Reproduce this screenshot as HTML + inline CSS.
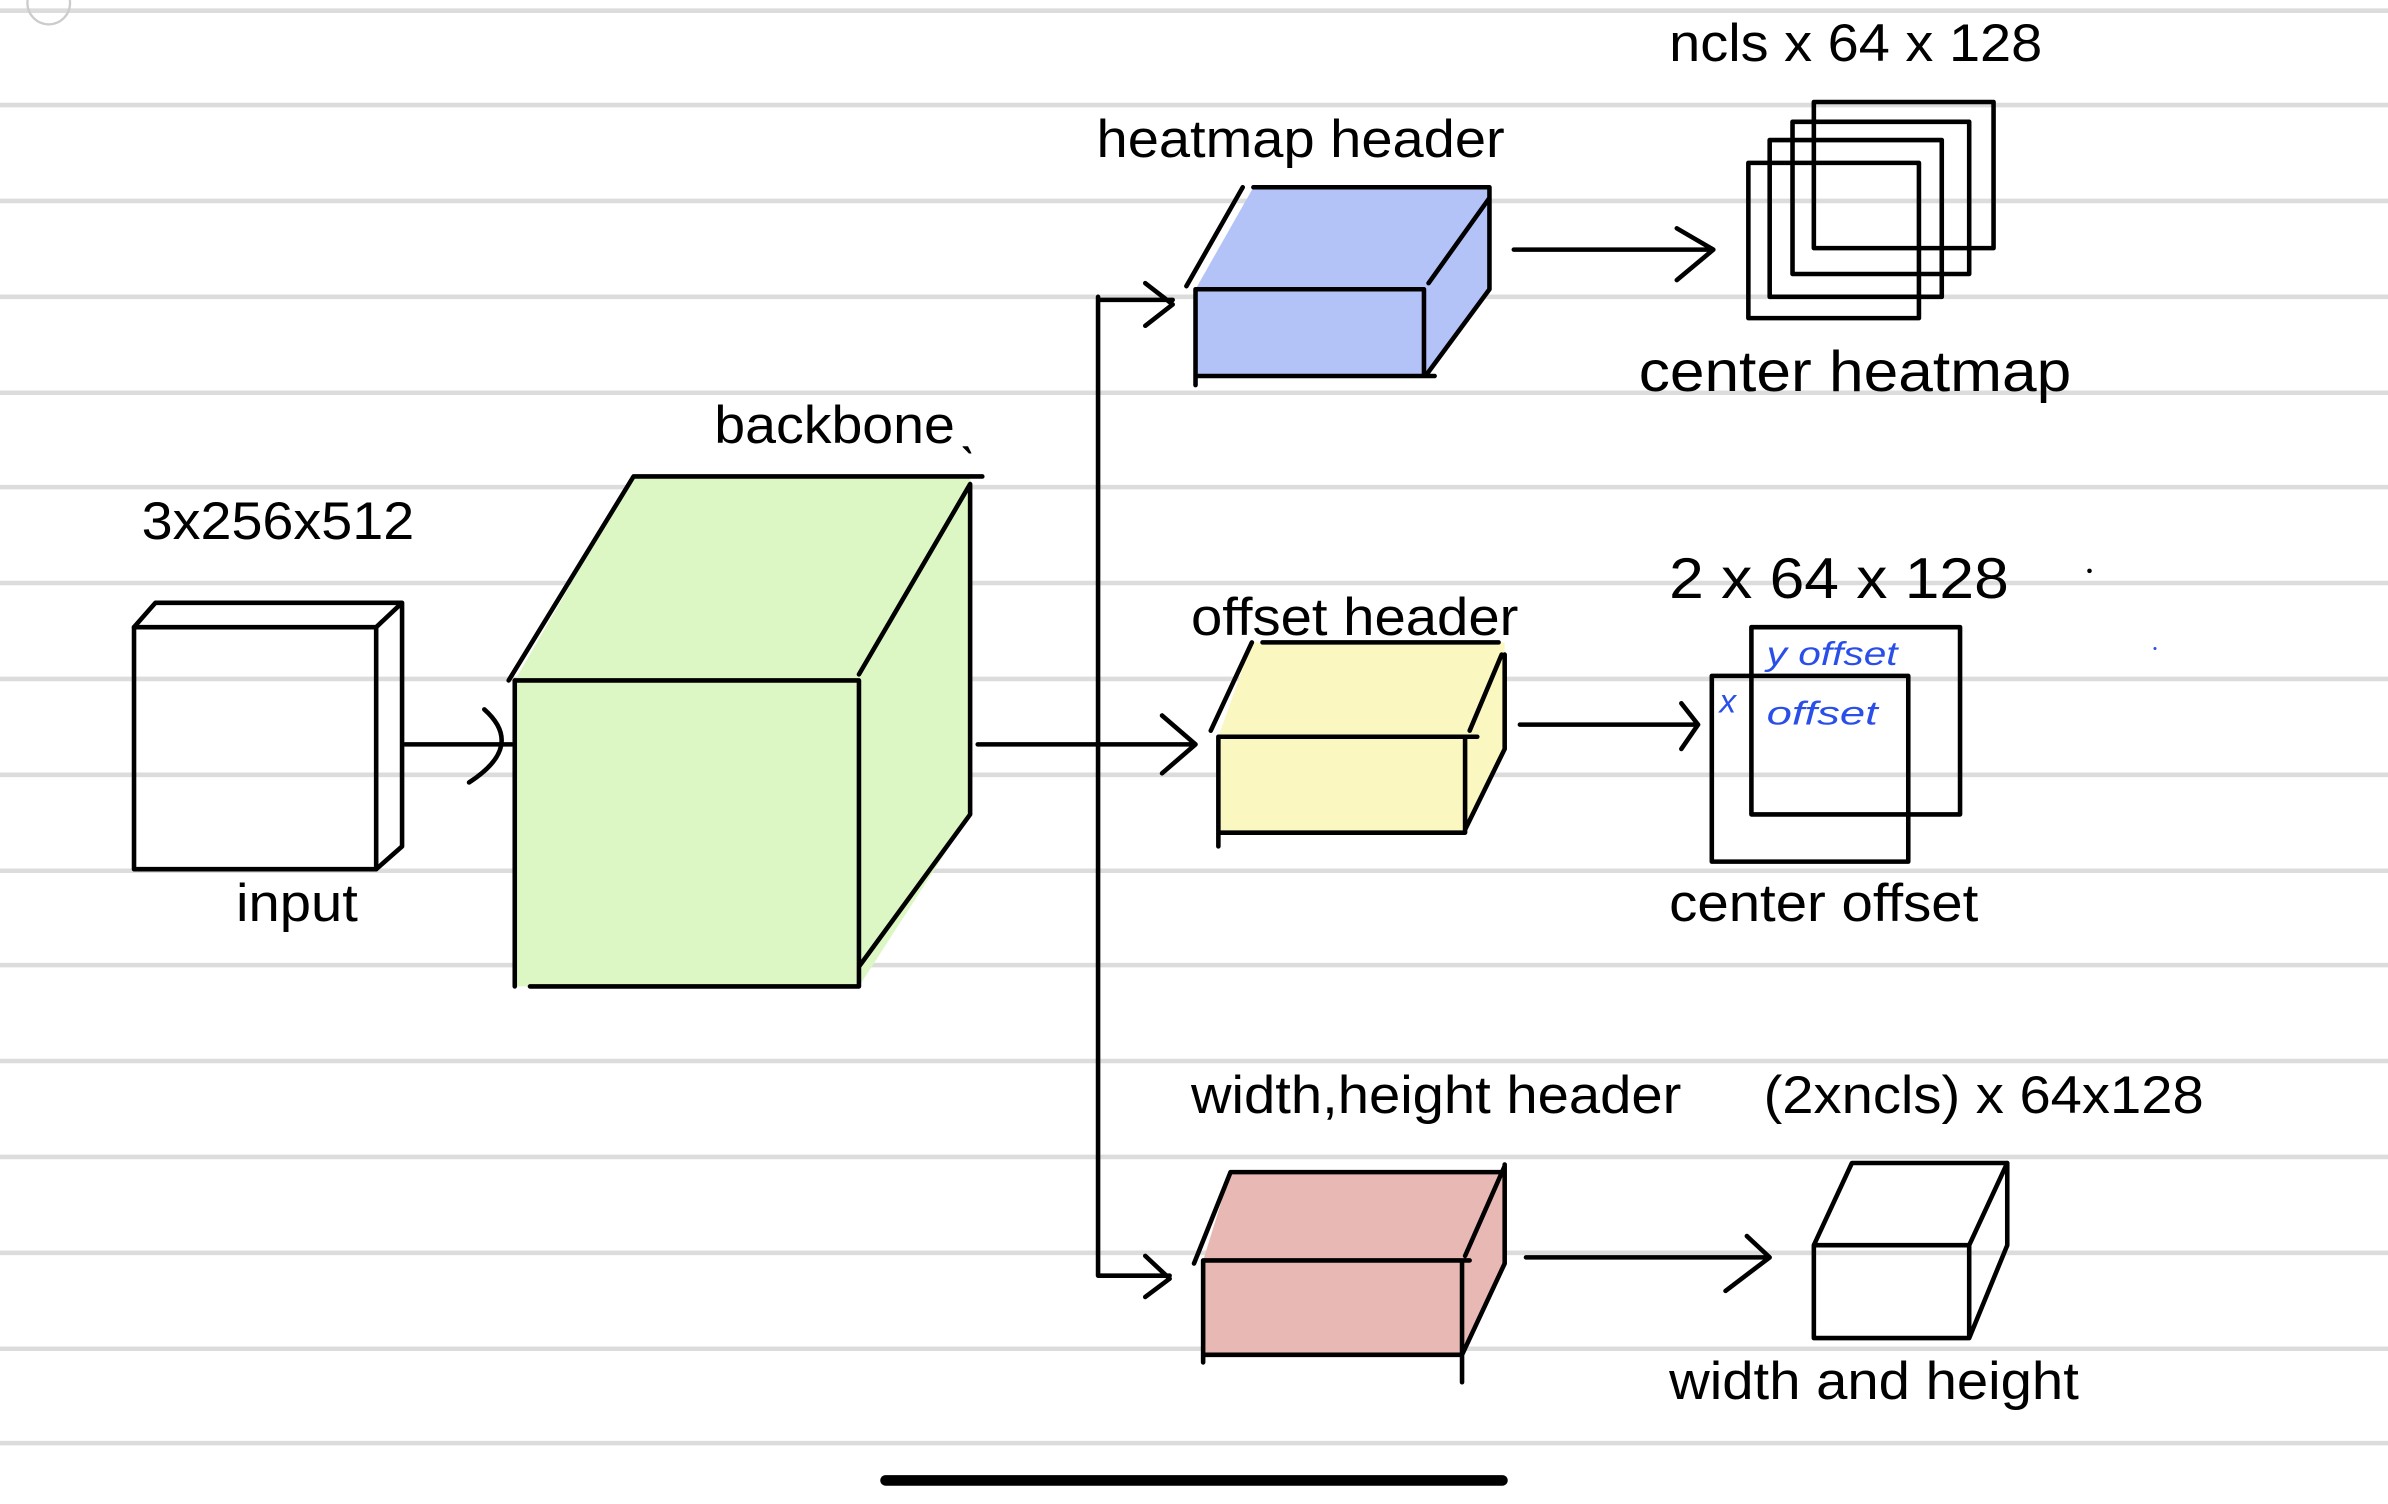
<!DOCTYPE html>
<html><head><meta charset="utf-8"><style>
html,body{margin:0;padding:0;background:#fff;}
svg{display:block;}
text{font-family:"Liberation Sans",sans-serif;fill:#000;}
</style></head><body>
<svg width="2388" height="1504" viewBox="0 0 1568 988" preserveAspectRatio="none" xmlns="http://www.w3.org/2000/svg">
<g stroke="#dcdcdc" stroke-width="3">
<line x1="0" y1="7" x2="1568" y2="7"/><line x1="0" y1="69" x2="1568" y2="69"/><line x1="0" y1="132" x2="1568" y2="132"/><line x1="0" y1="195" x2="1568" y2="195"/><line x1="0" y1="258" x2="1568" y2="258"/><line x1="0" y1="320" x2="1568" y2="320"/><line x1="0" y1="383" x2="1568" y2="383"/><line x1="0" y1="446" x2="1568" y2="446"/><line x1="0" y1="509" x2="1568" y2="509"/><line x1="0" y1="572" x2="1568" y2="572"/><line x1="0" y1="634" x2="1568" y2="634"/><line x1="0" y1="697" x2="1568" y2="697"/><line x1="0" y1="760" x2="1568" y2="760"/><line x1="0" y1="823" x2="1568" y2="823"/><line x1="0" y1="886" x2="1568" y2="886"/><line x1="0" y1="948" x2="1568" y2="948"/>
</g>
<path d="M338 447 L416 313 L637 313 L637 535 L564 648 L338 648 Z" fill="#dcf7c4"/>
<path d="M785 190 L823 123 L978 123 L978 190 L935 247 L785 247 Z" fill="#b3c3f7"/>
<path d="M800 484 L822 422 L988 422 L988 490 L962 547 L800 547 Z" fill="#fbf7c0"/>
<path d="M790 828 L808 770 L988 770 L988 828 L960 890 L790 890 Z" fill="#e8b9b4"/>
<g fill="none" stroke="#000" stroke-width="3" stroke-linecap="round" stroke-linejoin="round">
<rect x="88" y="412" width="159" height="159"/>
<path d="M88 412 L102 396 L264 396 L264 556 L247 571 M247 412 L264 396"/>
<path d="M338 447 L564 447 L564 648 L348 648 M338 447 L338 648 M334 447 L416 313 L645 313 M637 318 L637 535 M637 535 L564 635 M564 443 L637 318"/>
<path d="M785 190 L935 190 L935 247 M785 190 L785 253 M785 247 L942 247 M779 188 L816 123 M823 123 L978 123 L978 190 L936 247 M938 186 L978 130"/>
<path d="M800 484 L970 484 M800 484 L800 556 M800 547 L962 547 L962 484 M795 480 L822 422 M829 422 L984 422 M988 430 L988 492 L962 545 M965 480 L986 430"/>
<path d="M790 828 L965 828 M790 828 L790 895 M790 890 L960 890 L960 828 M784 830 L808 770 L988 770 M988 765 L988 830 L960 890 M960 890 L960 908 M962 825 L988 766"/>
<path d="M266 489 L336 489 M318 466 Q345 490 308 514"/>
<path d="M642 489 L785 489 M763 470 L785 489 L763 508"/>
<path d="M721 195 L721 838 M721 197 L770 197 M752 186 L770 200 L752 214 M721 838 L768 838 M752 825 L768 840 L752 852"/>
<path d="M994 164 L1125 164 M1101 150 L1125 164 L1101 184"/>
<path d="M998 476 L1115 476 M1104 462 L1115 476 L1104 492"/>
<path d="M1002 826 L1160 826 M1147 812 L1162 826 L1133 848"/>
<rect x="1148" y="107" width="112" height="102"/><rect x="1162" y="92" width="113" height="103"/><rect x="1177" y="80" width="116" height="100"/><rect x="1191" y="67" width="118" height="96"/>
<rect x="1124" y="444" width="129" height="122"/><rect x="1150" y="412" width="137" height="123"/>
<path d="M1191 818 L1293 818 L1293 879 L1191 879 Z M1191 818 L1216 764 L1318 764 L1318 818 L1293 879 M1293 818 L1318 764"/>
</g>
<rect x="578" y="969" width="412" height="7" rx="3.5" fill="#000"/>
<g font-size="35">
<text x="93" y="354" textLength="179" lengthAdjust="spacingAndGlyphs">3x256x512</text>
<text x="155" y="605" textLength="80" lengthAdjust="spacingAndGlyphs">input</text>
<text x="469" y="291" textLength="158" lengthAdjust="spacingAndGlyphs">backbone</text>
<text x="630" y="291">&#x02CE;</text>
<text x="720" y="103" textLength="268" lengthAdjust="spacingAndGlyphs">heatmap header</text>
<text x="1096" y="40" textLength="245" lengthAdjust="spacingAndGlyphs">ncls x 64 x 128</text>
<text x="1076" y="257" font-size="38" textLength="284" lengthAdjust="spacingAndGlyphs">center heatmap</text>
<text x="782" y="417" textLength="215" lengthAdjust="spacingAndGlyphs">offset header</text>
<text x="1096" y="393" font-size="38" textLength="223" lengthAdjust="spacingAndGlyphs">2 x 64 x 128</text>
<text x="1096" y="605" textLength="203" lengthAdjust="spacingAndGlyphs">center offset</text>
<text x="782" y="731" textLength="322" lengthAdjust="spacingAndGlyphs">width,height header</text>
<text x="1158" y="731" textLength="289" lengthAdjust="spacingAndGlyphs">(2xncls) x 64x128</text>
<text x="1096" y="919" textLength="269" lengthAdjust="spacingAndGlyphs">width and height</text>
</g>
<g font-size="22" font-style="italic">
<text x="1160" y="437" style="fill:#2a4ee8" textLength="86" lengthAdjust="spacingAndGlyphs">y offset</text>
<text x="1129" y="468" style="fill:#2a4ee8">x</text>
<text x="1160" y="476" style="fill:#2a4ee8" textLength="73" lengthAdjust="spacingAndGlyphs">offset</text>
</g>
<circle cx="32" cy="2" r="14" fill="none" stroke="#ccc" stroke-width="1.5"/>
<circle cx="1372" cy="375" r="1.5" fill="#000"/>
<circle cx="1415" cy="426" r="1" fill="#2a4ee8"/>
</svg>
</body></html>
